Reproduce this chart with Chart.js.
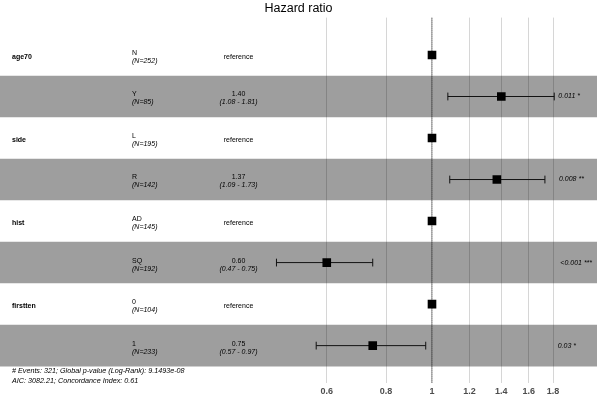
<!DOCTYPE html>
<html><head><meta charset="utf-8">
<script src="https://cdn.jsdelivr.net/npm/chart.js@4"></script>
<style>html,body{margin:0;padding:0;background:#fff}canvas{display:block}</style>
</head><body>
<canvas id="c" width="597" height="396"></canvas>
<script>
// ---- data ----
const variables = ["age70", "", "side", "", "hist", "", "firstten", ""];
const levels = ["N", "Y", "L", "R", "AD", "SQ", "0", "1"];
const counts = [252, 85, 195, 142, 145, 192, 104, 233];
const hazardRatios = [1, 1.40, 1, 1.37, 1, 0.60, 1, 0.75];
const ciLow = [null, 1.08, null, 1.09, null, 0.47, null, 0.57];
const ciHigh = [null, 1.81, null, 1.73, null, 0.75, null, 0.97];
const pLabels = ["", "0.011 *", "", "0.008 **", "", "<0.001 ***", "", "0.03 *"];
const xTicks = [0.6, 0.8, 1, 1.2, 1.4, 1.6, 1.8];
const footnote = ["# Events: 321; Global p-value (Log-Rank): 9.1493e-08",
                  "AIC: 3082.21; Concordance Index: 0.61"];
const titleText = "Hazard ratio";

// ---- layout / style ----
const X_MIN = 0.12282, X_MAX = 2.2277;
const Y_MIN = 0.1, Y_MAX = 8.9;
const FONT = '"Liberation Sans", Arial, Helvetica, sans-serif';
const L = { varX: 12, levelX: 132, estX: 238.5, pX: 554, noteX: 12, noteY1: 371, noteY2: 381 };

const rowPos = levels.map((_, i) => i + 1);

const bandData = rowPos.filter(r => r % 2 === 0).map(r => ({ x: [X_MIN, X_MAX], y: r }));
const pointData = hazardRatios.map((v, i) => ({ x: v, y: rowPos[i] }));
const errorSets = [];
hazardRatios.forEach((v, i) => {
  if (ciLow[i] == null) return;
  errorSets.push({
    type: 'line',
    data: [{ x: ciLow[i], y: rowPos[i] }, { x: ciHigh[i], y: rowPos[i] }],
    borderColor: '#111', borderWidth: 1,
    pointStyle: 'line', pointRotation: 90, pointRadius: 3.9,
    pointBorderColor: '#111', pointBorderWidth: 1, pointHoverRadius: 3.9,
    order: 1
  });
});

const textPlugin = {
  id: 'forestText',
  afterDatasetsDraw(chart) {
    const ctx = chart.ctx, ys = chart.scales.y, a = chart.chartArea;
    ctx.save();
    ctx.fillStyle = '#000';
    ctx.textBaseline = 'middle';
    levels.forEach((lv, i) => {
      const cy = ys.getPixelForValue(rowPos[i]);
      if (variables[i]) {
        ctx.font = 'bold 7px ' + FONT; ctx.textAlign = 'left';
        ctx.fillText(variables[i], a.left + L.varX, cy + 2);
      }
      ctx.textAlign = 'left';
      ctx.font = '7px ' + FONT;
      ctx.fillText(lv, a.left + L.levelX, cy - 2);
      ctx.font = 'italic 7px ' + FONT;
      ctx.fillText('(N=' + counts[i] + ')', a.left + L.levelX, cy + 6);
      ctx.textAlign = 'center';
      if (ciLow[i] == null) {
        ctx.font = '7px ' + FONT;
        ctx.fillText('reference', a.left + L.estX, cy + 2);
      } else {
        ctx.font = '7px ' + FONT;
        ctx.fillText(hazardRatios[i].toFixed(2), a.left + L.estX, cy - 2);
        ctx.font = 'italic 7px ' + FONT;
        ctx.fillText('(' + ciLow[i].toFixed(2) + ' - ' + ciHigh[i].toFixed(2) + ')', a.left + L.estX, cy + 6);
      }
      if (pLabels[i]) {
        ctx.font = 'italic 7px ' + FONT; ctx.textAlign = 'left';
        const w = ctx.measureText(pLabels[i]).width;
        ctx.fillText(pLabels[i], a.left + L.pX + 0.2 * w, cy);
      }
    });
    ctx.font = 'italic 7.2px ' + FONT; ctx.textAlign = 'left';
    ctx.fillText(footnote[0], L.noteX, L.noteY1);
    ctx.fillText(footnote[1], L.noteX, L.noteY2);
    ctx.restore();
  }
};

new Chart(document.getElementById('c'), {
  type: 'scatter',
  data: {
    datasets: [
      {
        type: 'scatter', data: pointData,
        pointStyle: 'rect', pointRadius: 6.1, pointHoverRadius: 6.1,
        backgroundColor: '#000', borderColor: '#000', borderWidth: 0, order: 0
      },
      ...errorSets,
      {
        type: 'line', data: [{ x: 1, y: Y_MIN }, { x: 1, y: Y_MAX }],
        borderColor: '#222', borderWidth: 1, borderDash: [1, 1], pointRadius: 0, order: 2
      },
      {
        type: 'bar', indexAxis: 'y', data: bandData,
        backgroundColor: 'rgba(0,0,0,0.38)', borderWidth: 0,
        categoryPercentage: 0.5, barPercentage: 1.0, order: 3
      }
    ]
  },
  options: {
    responsive: false, animation: false,
    layout: { autoPadding: false, padding: { left: 0, right: 0, top: 0, bottom: 0 } },
    plugins: {
      legend: { display: false }, tooltip: { enabled: false },
      title: {
        display: true, text: titleText, color: '#000',
        font: { family: FONT, size: 12.5, weight: 'normal', lineHeight: 1.2 },
        padding: { top: 1, bottom: 1.6 }
      }
    },
    scales: {
      x: {
        type: 'logarithmic', min: X_MIN, max: X_MAX,
        afterBuildTicks: (s) => { s.ticks = xTicks.map(v => ({ value: v })); },
        afterFit: (s) => { s.height = 13; },
        ticks: {
          callback: (v) => String(v), color: '#4D4D4D', padding: 3.5,
          font: { family: FONT, size: 9, weight: 'bold' }, maxRotation: 0, autoSkip: false
        },
        grid: { color: '#D6D6D6', lineWidth: 1, drawTicks: false },
        border: { display: false }
      },
      y: {
        type: 'linear', min: Y_MIN, max: Y_MAX, reverse: true, display: false,
        afterBuildTicks: (s) => { s.ticks = []; }
      }
    }
  },
  plugins: [textPlugin]
});
</script>
</body></html>
